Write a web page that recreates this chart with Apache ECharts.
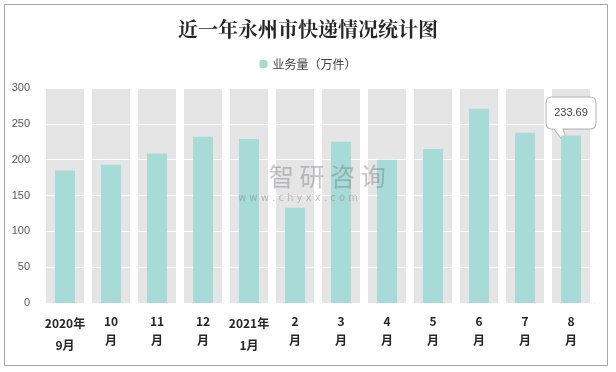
<!DOCTYPE html>
<html><head><meta charset="utf-8">
<script src="https://cdn.jsdelivr.net/npm/echarts@6/dist/echarts.min.js"></script>
<style>html,body{margin:0;padding:0;background:#fff}#c{width:616px;height:372px}</style>
</head><body><div id="c"></div>
<script>
const categories = ['2020年\n9月','10\n月','11\n月','12\n月','2021年\n1月','2\n月','3\n月','4\n月','5\n月','6\n月','7\n月','8\n月'];
const volume = [185, 193, 208.5, 232, 229, 133, 225, 200, 215, 271, 237.5, 233.69];
const bandMax = [300,300,300,300,300,300,300,300,300,300,300,300];
const yTicks = [0, 50, 100, 150, 200, 250, 300];
const seriesName = '业务量（万件）';
const titleText = '近一年永州市快递情况统计图';

const last = volume.length - 1;
const bubblePath = 'path://M6,0 L44,0 Q50,0 50,6 L50,26 Q50,32 44,32 L17,32 L24,53 L8,32 L6,32 Q0,32 0,26 L0,6 Q0,0 6,0 Z';

const chart = echarts.init(document.getElementById('c'));
chart.setOption({
  animation: false,
  title: { text: titleText, left: 'center', top: 14,
    textStyle: { fontFamily: 'Noto Serif CJK SC, Noto Sans CJK SC, serif', fontSize: 20, fontWeight: 'bold', color: '#262626' } },
  legend: { data: [seriesName], top: 53, left: 'center', itemWidth: 8, itemHeight: 8, itemGap: 4,
    textStyle: { fontFamily: 'Noto Sans CJK SC', fontSize: 12, color: '#404040' } },
  graphic: [
    { type: 'rect', shape: { x: 4.5, y: 4.5, width: 603, height: 361 }, style: { fill: 'none', stroke: '#a6a6a6', lineWidth: 1 }, silent: true },
    { type: 'text', left: 269, top: 164, z: 10, style: { text: '智 研 咨 询', fontSize: 25, fontFamily: 'Noto Sans CJK SC', fill: 'rgba(120,125,130,0.45)' } },
    { type: 'text', left: 238, top: 193, z: 10, style: { text: 'w w w . c h y x x . c o m', fontSize: 10, fontFamily: 'DejaVu Sans', fill: 'rgba(120,125,130,0.45)' } }
  ],
  grid: { left: 42, right: 22, top: 88, bottom: 69 },
  xAxis: [
    { type: 'category', data: categories,
      axisLine: { lineStyle: { color: '#d0d0d0' } }, axisTick: { show: false },
      axisLabel: { interval: 0, margin: 9, color: '#262626',
        formatter: v => v.indexOf('年') >= 0 ? v.split('\n').map(s => '{y|' + s + '}').join('\n') : v.split('\n').map(s => '{n|' + s + '}').join('\n'),
        rich: {
          y: { fontSize: 12, fontWeight: 'bold', lineHeight: 22.5, color: '#262626', fontFamily: 'Noto Sans CJK SC' },
          n: { fontSize: 12, fontWeight: 'bold', lineHeight: 19, color: '#262626', fontFamily: 'Noto Sans CJK SC' }
        } } },
    { type: 'category', data: categories, show: false }
  ],
  yAxis: { type: 'value', min: 0, max: 300, interval: 50, z: 2,
    axisLine: { show: false }, axisTick: { show: false },
    splitLine: { show: true, lineStyle: { color: '#ffffff', width: 1 } },
    axisLabel: { fontSize: 11, color: '#595959', margin: 12, fontFamily: 'Liberation Sans' } },
  series: [
    { type: 'bar', name: 'bg', data: bandMax, xAxisIndex: 1, barWidth: 38, z: 1, silent: true,
      itemStyle: { color: '#e5e5e5' },
      markLine: { silent: true, symbol: 'none', z: 3, label: { show: false },
        lineStyle: { color: '#ffffff', width: 1.2, type: 'solid', opacity: 1 },
        emphasis: { disabled: true },
        data: yTicks.slice(1, -1).map(v => ({ yAxis: v })) } },
    { type: 'bar', name: seriesName, data: volume, barWidth: 20, z: 5,
      itemStyle: { color: '#a7dbd7' },
      markPoint: { symbol: bubblePath, symbolSize: [50, 53], symbolOffset: [0, -12], symbolKeepAspect: false,
        itemStyle: { color: '#ffffff', borderColor: '#b0b0b0', borderWidth: 1 },
        label: { show: true, offset: [0, -10.5], fontSize: 11, color: '#404040', fontFamily: 'Liberation Sans',
          formatter: p => String(volume[last]) },
        data: [{ coord: [last, volume[last]] }] } }
  ]
});
</script></body></html>
